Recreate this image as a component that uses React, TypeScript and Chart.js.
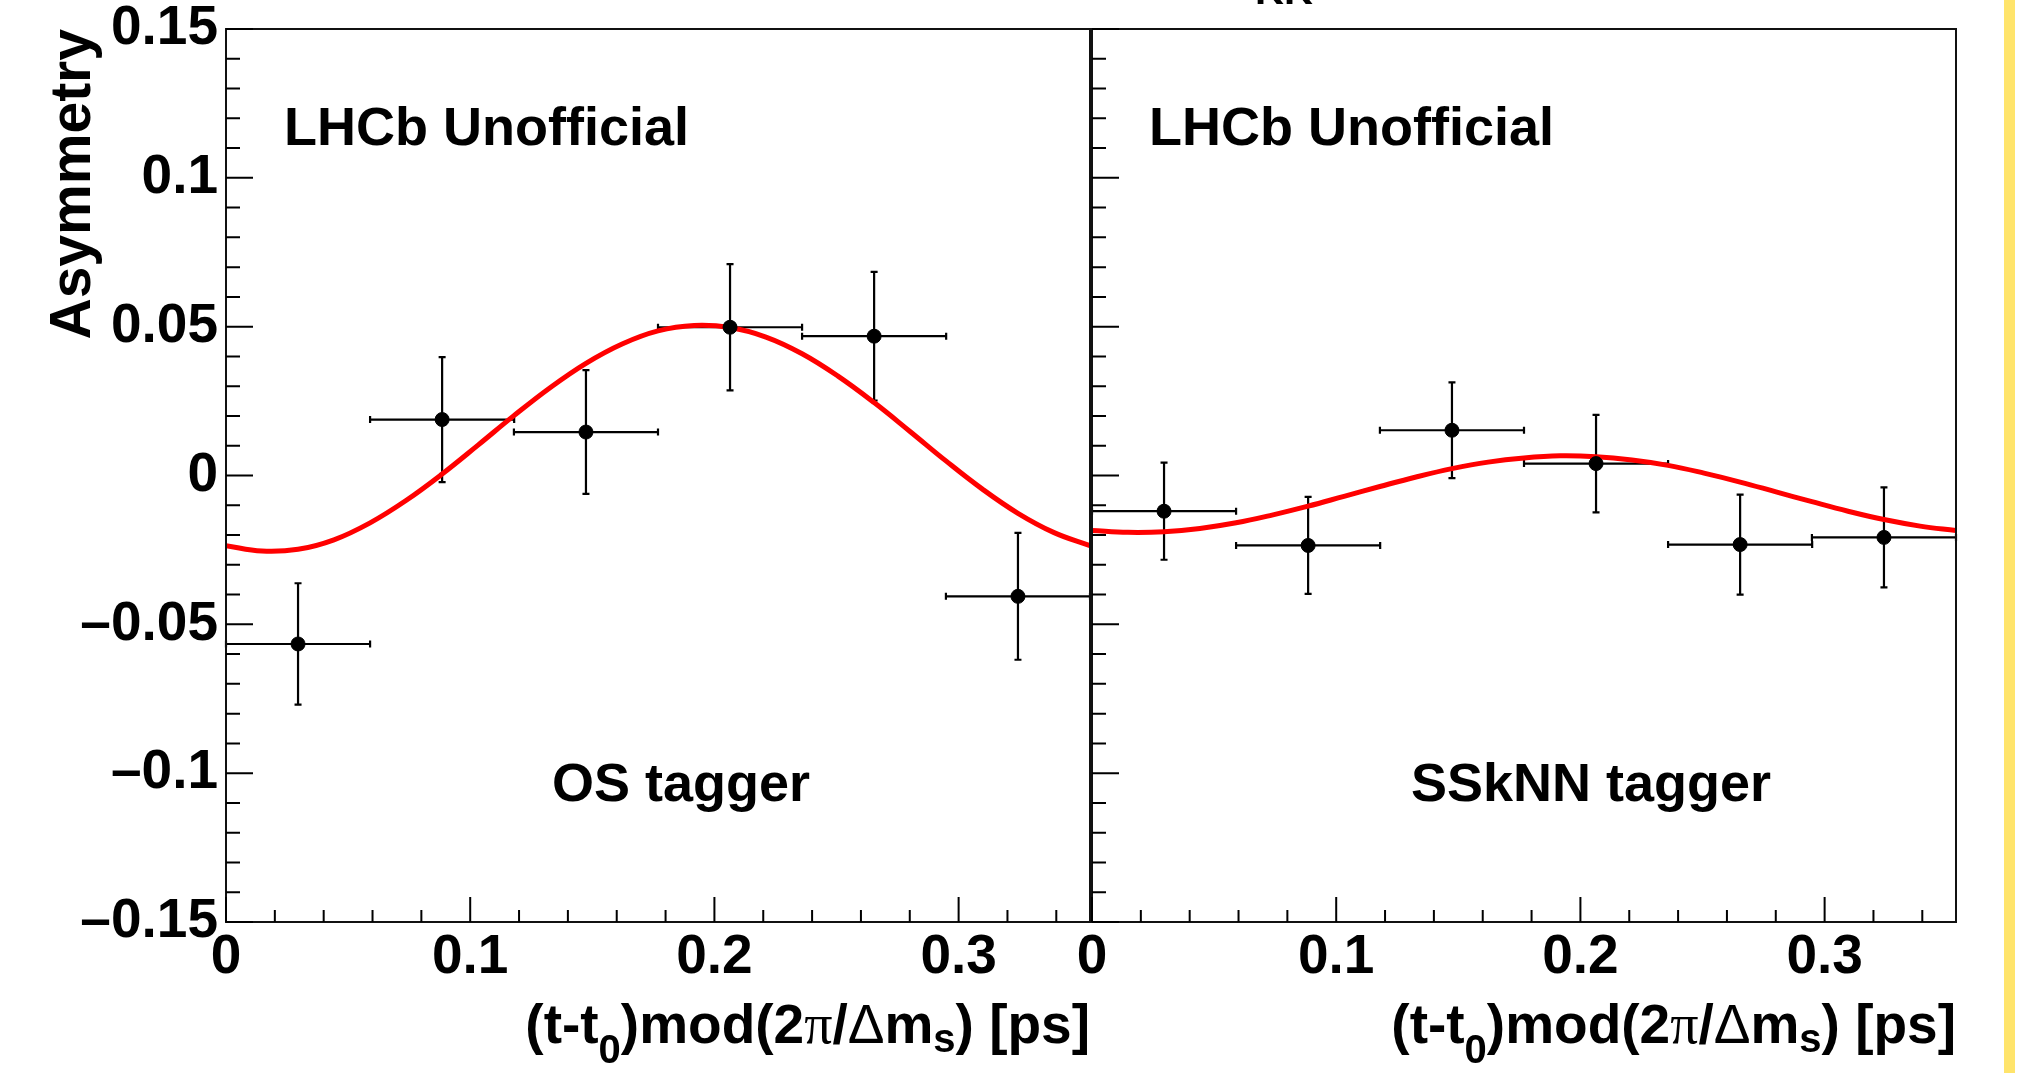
import React, { useEffect, useRef } from 'react';
import { Chart, registerables } from 'chart.js';

Chart.register(...registerables);

// ---------- data ----------
const X_MIN = 0;
const X_MAX = 0.3538;
const Y_MIN = -0.15;
const Y_MAX = 0.15;

const binCenters = [0.0295, 0.0885, 0.1474, 0.2064, 0.2654, 0.3243];
const binHalfWidths = [0.0295, 0.0295, 0.0295, 0.0295, 0.0295, 0.0295];

const osValues = [-0.0566, 0.0188, 0.0146, 0.0498, 0.0468, -0.0406];
const osErrors = [0.0204, 0.021, 0.0208, 0.0212, 0.0216, 0.0213];

const ssValues = [-0.012, -0.0235, 0.0152, 0.004, -0.0232, -0.0208];
const ssErrors = [0.0163, 0.0163, 0.0161, 0.0164, 0.0168, 0.0168];

const curveX = [
  0, 0.0147, 0.0295, 0.0442, 0.059, 0.0737, 0.0885, 0.1032, 0.1179, 0.1327, 0.1474, 0.1622, 0.1769,
  0.1917, 0.2064, 0.2211, 0.2359, 0.2506, 0.2654, 0.2801, 0.2948, 0.3096, 0.3243, 0.3391, 0.3538,
];
const osCurve = [
  -0.0236, -0.0254, -0.0248, -0.0216, -0.0159, -0.0084, 0.0005, 0.0102, 0.0201, 0.0295, 0.0377, 0.0442,
  0.0486, 0.0504, 0.0497, 0.0465, 0.0409, 0.0334, 0.0245, 0.0148, 0.0049, -0.0045, -0.0127, -0.0192, -0.0236,
];
const ssCurve = [
  -0.0185, -0.0191, -0.0189, -0.0178, -0.0159, -0.0133, -0.0103, -0.007, -0.0037, -0.0005, 0.0023, 0.0045,
  0.0059, 0.0066, 0.0063, 0.0052, 0.0034, 0.0008, -0.0022, -0.0055, -0.0088, -0.012, -0.0148, -0.017, -0.0185,
];

const xTickValues = [0, 0.1, 0.2, 0.3];
const xTickLabels = ['0', '0.1', '0.2', '0.3'];
const yTickValues = [-0.15, -0.1, -0.05, 0, 0.05, 0.1, 0.15];
const yTickLabels = ['\u20130.15', '\u20130.1', '\u20130.05', '0', '0.05', '0.1', '0.15'];

const xMinorStep = 0.02;
const xMinorPerMajor = 5;
const yMinorStep = 0.01;
const yMinorPerMajor = 5;

// ---------- style ----------
const W = 2024;
const H = 1073;
const FONT = 'Liberation Sans';
const MAIN_FONT = `bold 54px "${FONT}"`;
const TITLE_FONT = `bold 55px "${FONT}"`;
const SUB_FONT = `bold 40px "${FONT}"`;

type PanelOpts = {
  values: number[];
  errors: number[];
  texts: { text: string; dx: number; y: number; font?: string }[];
};

const rootPlugin = {
  id: 'rootStyle',
  beforeDatasetsDraw(chart: any, _args: any, o: PanelOpts) {
    const { ctx, scales } = chart;
    const x = scales.x;
    const y = scales.y;
    ctx.save();
    ctx.strokeStyle = '#000';
    ctx.lineWidth = 2.2;
    o.values.forEach((v: number, i: number) => {
      const cx = x.getPixelForValue(binCenters[i]);
      const cy = y.getPixelForValue(v);
      const x0 = x.getPixelForValue(binCenters[i] - binHalfWidths[i]);
      const x1 = x.getPixelForValue(binCenters[i] + binHalfWidths[i]);
      const y0 = y.getPixelForValue(v - o.errors[i]);
      const y1 = y.getPixelForValue(v + o.errors[i]);
      ctx.beginPath();
      ctx.moveTo(x0, cy);
      ctx.lineTo(x1, cy);
      ctx.moveTo(cx, y0);
      ctx.lineTo(cx, y1);
      ctx.moveTo(x0, cy - 3.5);
      ctx.lineTo(x0, cy + 3.5);
      ctx.moveTo(x1, cy - 3.5);
      ctx.lineTo(x1, cy + 3.5);
      ctx.moveTo(cx - 3.5, y0);
      ctx.lineTo(cx + 3.5, y0);
      ctx.moveTo(cx - 3.5, y1);
      ctx.lineTo(cx + 3.5, y1);
      ctx.stroke();
    });
    ctx.restore();
  },
  afterDraw(chart: any, _args: any, o: PanelOpts) {
    const { ctx, chartArea: a, scales } = chart;
    const x = scales.x;
    const y = scales.y;
    ctx.save();
    // frame
    ctx.strokeStyle = '#111';
    ctx.lineWidth = 2;
    ctx.strokeRect(a.left, a.top, a.right - a.left, a.bottom - a.top);
    // y ticks (inside, left edge)
    ctx.strokeStyle = '#000';
    ctx.beginPath();
    const nY = Math.round((Y_MAX - Y_MIN) / yMinorStep);
    for (let k = 0; k <= nY; k++) {
      const py = y.getPixelForValue(Y_MIN + k * yMinorStep);
      const len = k % yMinorPerMajor === 0 ? 27 : 14;
      ctx.moveTo(a.left, py);
      ctx.lineTo(a.left + len, py);
    }
    // x ticks (inside, bottom edge)
    const nX = Math.floor((X_MAX - X_MIN) / xMinorStep + 1e-6);
    for (let k = 0; k <= nX; k++) {
      const px = x.getPixelForValue(X_MIN + k * xMinorStep);
      const len = k % xMinorPerMajor === 0 ? 25 : 12;
      ctx.moveTo(px, a.bottom);
      ctx.lineTo(px, a.bottom - len);
    }
    ctx.stroke();

    // texts
    ctx.fillStyle = '#000';
    ctx.textBaseline = 'alphabetic';
    ctx.textAlign = 'left';
    o.texts.forEach((t) => {
      ctx.font = t.font || MAIN_FONT;
      ctx.fillText(t.text, a.left + t.dx, t.y);
    });

    // x axis title with sub-scripts, right aligned to frame
    const segs = [
      { t: '(t-t', f: TITLE_FONT, dy: 0 },
      { t: '0', f: SUB_FONT, dy: 20 },
      { t: ')mod(2', f: TITLE_FONT, dy: 0 },
      { t: '\u03c0', f: `56px "Liberation Serif"`, dy: 0 },
      { t: '/', f: TITLE_FONT, dy: 0 },
      { t: '\u0394', f: `55px "${FONT}"`, dy: 0 },
      { t: 'm', f: TITLE_FONT, dy: 0 },
      { t: 's', f: SUB_FONT, dy: 9 },
      { t: ') [ps]', f: TITLE_FONT, dy: 0 },
    ];
    let total = 0;
    const widths = segs.map((s) => {
      ctx.font = s.f;
      const w = ctx.measureText(s.t).width;
      total += w;
      return w;
    });
    let cx = a.right - total;
    const base = 1043;
    segs.forEach((s, i) => {
      ctx.font = s.f;
      ctx.fillText(s.t, cx, base + s.dy);
      cx += widths[i];
    });
    ctx.restore();
  },
};

function makeConfig(panel: 'left' | 'right') {
  const isLeft = panel === 'left';
  const values = isLeft ? osValues : ssValues;
  const errors = isLeft ? osErrors : ssErrors;
  const curve = isLeft ? osCurve : ssCurve;
  const texts = isLeft
    ? [
        { text: 'LHCb Unofficial', dx: 58, y: 145 },
        { text: 'OS tagger', dx: 326, y: 801 },
      ]
    : [
        { text: 'LHCb Unofficial', dx: 57, y: 145 },
        { text: 'SSkNN tagger', dx: 319, y: 801 },
        { text: 'KK', dx: 163, y: 4, font: `bold 40px "${FONT}"` },
      ];
  const tickFont = { family: FONT, size: 55, weight: 'bold' as const, lineHeight: 1 };
  return {
    type: 'scatter' as const,
    data: {
      datasets: [
        {
          label: isLeft ? 'OS tagger' : 'SSkNN tagger',
          data: binCenters.map((bx, i) => ({ x: bx, y: values[i] })),
          showLine: false,
          pointRadius: 7,
          pointBorderWidth: 1,
          pointBackgroundColor: '#000',
          pointBorderColor: '#000',
        },
        {
          label: 'fit',
          data: curveX.map((cx, i) => ({ x: cx, y: curve[i] })),
          showLine: true,
          borderColor: '#ff0000',
          borderWidth: 5,
          pointRadius: 0,
          tension: 0.4,
          fill: false,
        },
      ],
    },
    options: {
      animation: false as const,
      responsive: false,
      devicePixelRatio: 1,
      events: [] as any[],
      layout: {
        padding: isLeft
          ? { left: 0, top: 29, right: W - 1090, bottom: 0 }
          : { left: 1092, top: 29, right: W - 1956, bottom: 0 },
      },
      plugins: {
        legend: { display: false },
        tooltip: { enabled: false },
        rootStyle: { values, errors, texts },
      },
      scales: {
        x: {
          type: 'linear' as const,
          position: 'bottom' as const,
          min: X_MIN,
          max: X_MAX,
          grid: { display: false, drawTicks: false, tickLength: 0 },
          border: { display: false },
          afterBuildTicks: (s: any) => {
            s.ticks = xTickValues.map((v) => ({ value: v }));
          },
          afterFit: (s: any) => {
            s.height = H - 922;
            s.paddingLeft = 0;
            s.paddingRight = 0;
          },
          ticks: {
            autoSkip: false,
            maxRotation: 0,
            padding: 8,
            color: '#000',
            font: tickFont,
            callback: (v: number) => {
              const idx = xTickValues.findIndex((t) => Math.abs(t - v) < 1e-9);
              return idx >= 0 ? xTickLabels[idx] : '';
            },
          },
        },
        y: {
          type: 'linear' as const,
          position: 'left' as const,
          display: isLeft,
          min: Y_MIN,
          max: Y_MAX,
          grid: { display: false, drawTicks: false, tickLength: 0 },
          border: { display: false },
          afterBuildTicks: (s: any) => {
            s.ticks = yTickValues.map((v) => ({ value: v }));
          },
          afterFit: (s: any) => {
            if (isLeft) s.width = 226;
            s.paddingTop = 0;
            s.paddingBottom = 0;
          },
          title: {
            display: isLeft,
            text: 'Asymmetry',
            align: 'end' as const,
            color: '#000',
            font: { family: FONT, size: 57, weight: 'bold' as const, lineHeight: 1.2 },
            padding: { top: 40, bottom: 0 },
          },
          ticks: {
            autoSkip: false,
            padding: 8,
            color: '#000',
            font: tickFont,
            callback: (v: number) => {
              const idx = yTickValues.findIndex((t) => Math.abs(t - v) < 1e-9);
              return idx >= 0 ? yTickLabels[idx] : '';
            },
          },
        },
      },
    },
    plugins: [rootPlugin],
  };
}

function Panel({ side }: { side: 'left' | 'right' }) {
  const ref = useRef<HTMLCanvasElement | null>(null);
  useEffect(() => {
    if (!ref.current) return;
    const chart = new Chart(ref.current, makeConfig(side) as any);
    return () => chart.destroy();
  }, [side]);
  return (
    <canvas
      ref={ref}
      width={W}
      height={H}
      style={{ position: 'absolute', left: 0, top: 0, width: W, height: H }}
    />
  );
}

export default function App() {
  return (
    <div
      style={{
        position: 'absolute',
        left: 0,
        top: 0,
        width: W,
        height: H,
        background: '#fff',
        overflow: 'hidden',
      }}
    >
      <Panel side="left" />
      <Panel side="right" />
      <div
        style={{
          position: 'absolute',
          left: 2004,
          top: 0,
          width: 11,
          height: H,
          background: '#FFE46B',
        }}
      />
    </div>
  );
}
